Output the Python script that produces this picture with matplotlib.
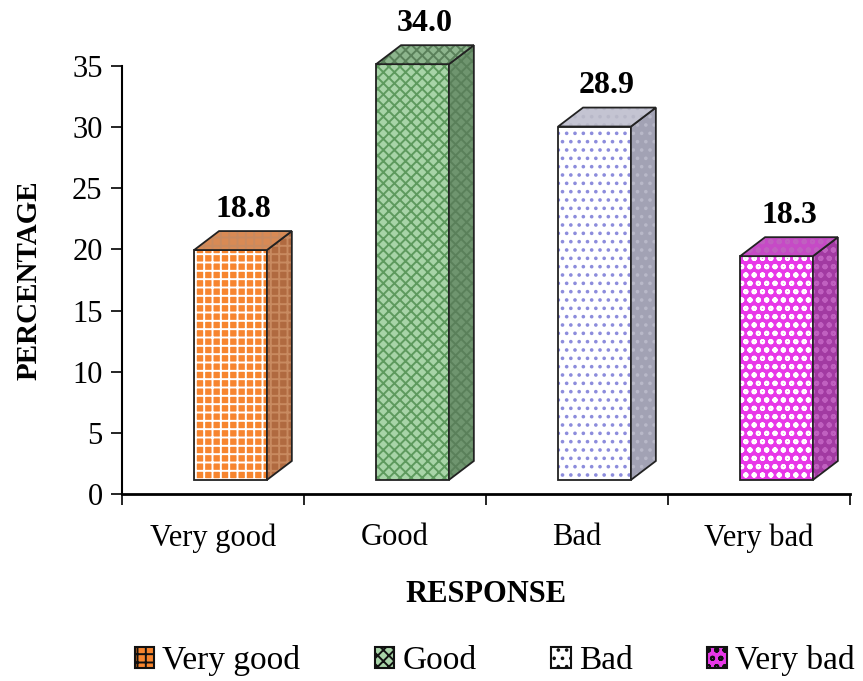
import numpy as np
import matplotlib.pyplot as plt
from matplotlib.patches import Polygon, Rectangle

plt.rcParams['font.family'] = ['Liberation Serif', 'DejaVu Serif']
plt.rcParams['hatch.linewidth'] = 1.4

categories = ['Very good', 'Good', 'Bad', 'Very bad']
values = [18.8, 34.0, 28.9, 18.3]

# front, top, side colours and the hatch drawn over each bar
front_cols = ['#F7852E', '#A8D4A8', '#FFFFFF', '#E838E8']
top_cols = ['#D88A55', '#8DB58D', '#C4C4D2', '#C64AC6']
side_cols = ['#B06A40', '#6F956F', '#A2A2B4', '#A23AA2']
hatch_cols = ['#FFFFFF', '#5E9A5E', '#8C8CDC', '#FFFFFF']
shade_cols = ['#C88A60', '#5A805A', '#B8B8C8', '#C060C0']
hatches = ['++', 'xxx', '..', 'oo']

base = 1.15        # floor of the 3d bars
bar_w = 0.40
dx, dy = 0.137, 1.55
x_left = [i + 0.396 for i in range(4)]

fig = plt.figure(figsize=(8.63, 6.81), dpi=100)
ax = fig.add_axes([0.1414, 0.2746, 0.8436, 0.6285])


def face(pts, fc, hc, hatch):
    # hatched fill first, then the dark outline on top
    ax.add_patch(Polygon(pts, closed=True, facecolor=fc, edgecolor=hc,
                         hatch=hatch, linewidth=0, clip_on=False))
    ax.add_patch(Polygon(pts, closed=True, facecolor='none', edgecolor='#222222',
                         linewidth=1.3, clip_on=False))


for i, v in enumerate(values):
    x0 = x_left[i]
    x1 = x0 + bar_w
    top = base + v
    face([(x0, base), (x1, base), (x1, top), (x0, top)],
         front_cols[i], hatch_cols[i], hatches[i])
    face([(x1, base), (x1 + dx, base + dy), (x1 + dx, top + dy), (x1, top)],
         side_cols[i], shade_cols[i], hatches[i])
    face([(x0, top), (x1, top), (x1 + dx, top + dy), (x0 + dx, top + dy)],
         top_cols[i], shade_cols[i], hatches[i])
    ax.text((x0 + x1 + dx) / 2, top + dy + 0.6, f'{v:.1f}', ha='center',
            va='bottom', fontsize=23, fontweight='bold')

ax.set_xlim(0, 4)
ax.set_ylim(0, 35)
ax.set_yticks(np.arange(0, 36, 5))
ax.set_xticks(np.arange(0, 5))
ax.set_xticklabels([])
ax.set_xticks(np.arange(4) + 0.5, minor=True)
ax.set_xticklabels(categories, minor=True)
ax.tick_params(axis='x', which='minor', length=0, pad=21, labelsize=22)
ax.tick_params(axis='x', which='major', length=8, width=1.2, direction='out')
ax.tick_params(axis='y', length=8, width=1.2, pad=6, labelsize=22)
for s in ['top', 'right']:
    ax.spines[s].set_visible(False)
ax.spines['left'].set_linewidth(1.5)
ax.spines['bottom'].set_linewidth(2)

ax.set_xlabel('RESPONSE', fontsize=22, fontweight='bold', labelpad=20)
ax.set_ylabel('PERCENTAGE', fontsize=21, fontweight='bold', labelpad=21)

handles = [Rectangle((0, 0), 1, 1, facecolor=front_cols[i], edgecolor=hatch_cols[i],
                     hatch=hatches[i], linewidth=0) for i in range(4)]
leg = fig.legend(handles, categories, loc='center', bbox_to_anchor=(0.573, 0.030),
                 ncol=4, frameon=False, fontsize=24, handlelength=0.58,
                 handleheight=0.58, handletextpad=0.24, columnspacing=2.25)
for h in leg.legend_handles:
    h.set_edgecolor('#111111')
    h.set_linewidth(1.5)

fig.savefig('out.png', dpi=100)
